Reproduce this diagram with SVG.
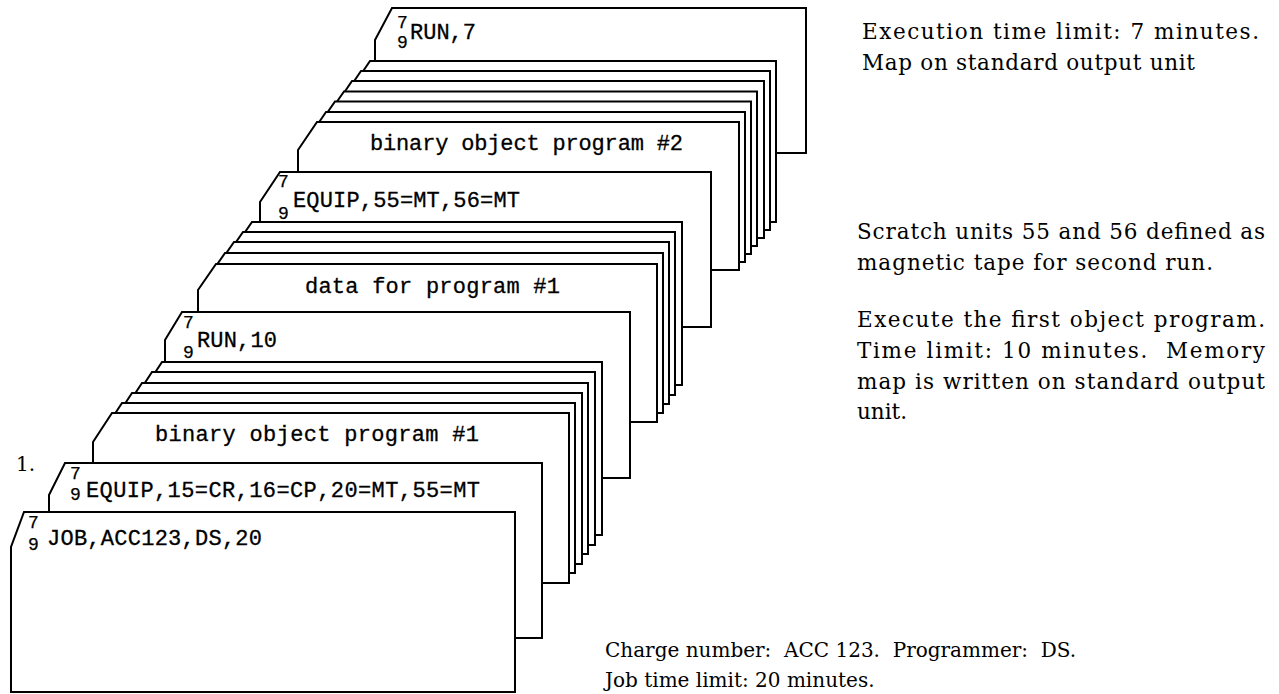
<svg xmlns="http://www.w3.org/2000/svg" width="1279" height="694" viewBox="0 0 1279 694">
<style>
.card{fill:#fff;stroke:#000;stroke-width:2;stroke-linejoin:miter}
.t{font-family:"Liberation Mono","DejaVu Sans Mono",monospace;font-size:22px;fill:#000;stroke:#000;stroke-width:0.3}
.s{font-family:"Liberation Mono","DejaVu Sans Mono",monospace;font-size:18px;fill:#000;stroke:#000;stroke-width:0.25}
.n{font-family:"DejaVu Serif","Liberation Serif",serif;font-size:21.5px;fill:#000}
.m{font-family:"DejaVu Serif","Liberation Serif",serif;font-size:20px;fill:#000}
</style>
<rect width="1279" height="694" fill="#fff"/>

<g id="card-run7">
<path class="card" d="M392,8 H806 V153 H375 V40 Z"/>
<text class="s" x="397" y="28">7</text><text class="s" x="397" y="48">9</text>
<text class="t" x="410" y="39">RUN,7</text>
</g>

<g id="deck-binary2">
<path class="card" d="M370,61 H776 V222 H351 V89 Z"/>
<path class="card" d="M361,71 H770 V230 H342 V99 Z"/>
<path class="card" d="M352,81 H764 V238 H333 V109 Z"/>
<path class="card" d="M344,91.5 H757 V246 H325 V119 Z"/>
<path class="card" d="M335,101.5 H751 V254 H316 V129 Z"/>
<path class="card" d="M326,112 H745 V262 H307 V140 Z"/>
<path class="card" d="M317,122 H739 V270 H298 V150 Z"/>
<text class="t" x="370" y="150" textLength="313" lengthAdjust="spacing">binary object program #2</text>
</g>

<g id="card-equip2">
<path class="card" d="M280,172 H711 V327 H260 V202 Z"/>
<text class="s" x="278" y="187">7</text><text class="s" x="278" y="219">9</text>
<text class="t" x="293" y="207" textLength="227" lengthAdjust="spacing">EQUIP,55=MT,56=MT</text>
</g>

<g id="deck-data1">
<path class="card" d="M252,222 H682 V385 H234 V248 Z"/>
<path class="card" d="M243,232 H675 V395 H225 V258 Z"/>
<path class="card" d="M234,242 H669 V404 H216 V268 Z"/>
<path class="card" d="M225,253 H663 V413 H207 V279 Z"/>
<path class="card" d="M216,264 H657 V422 H198 V290 Z"/>
<text class="t" x="305" y="293" textLength="255" lengthAdjust="spacing">data for program #1</text>
</g>

<g id="card-run10">
<path class="card" d="M182,312 H630 V478 H165 V340 Z"/>
<text class="s" x="183" y="328">7</text><text class="s" x="183" y="358">9</text>
<text class="t" x="197" y="347" textLength="80" lengthAdjust="spacing">RUN,10</text>
</g>

<g id="deck-binary1">
<path class="card" d="M162,362 H602 V535 H143 V391 Z"/>
<path class="card" d="M152,372 H595 V545 H133 V401 Z"/>
<path class="card" d="M142,383 H588 V554 H123 V412 Z"/>
<path class="card" d="M132,393 H582 V564 H113 V422 Z"/>
<path class="card" d="M122,403 H575 V573 H103 V432 Z"/>
<path class="card" d="M112,413 H569 V583 H93 V442 Z"/>
<text class="t" x="155" y="441" textLength="324" lengthAdjust="spacing">binary object program #1</text>
</g>

<g id="card-equip1">
<text class="m" x="16" y="471">1.</text>
<path class="card" d="M65,463 H542 V638 H49 V495 Z"/>
<text class="s" x="70" y="479">7</text><text class="s" x="70" y="500">9</text>
<text class="t" x="86" y="497" textLength="394" lengthAdjust="spacing">EQUIP,15=CR,16=CP,20=MT,55=MT</text>
</g>

<g id="card-job">
<path class="card" d="M24,512 H515 V692 H11 V547 Z"/>
<text class="s" x="28" y="528">7</text><text class="s" x="28" y="550">9</text>
<text class="t" x="47" y="545" textLength="215" lengthAdjust="spacing">JOB,ACC123,DS,20</text>
</g>

<g id="connectors"></g>

<g id="notes">
<text class="n" x="862" y="39" textLength="397" lengthAdjust="spacing">Execution time limit: 7 minutes.</text>
<text class="n" x="862" y="70" textLength="333" lengthAdjust="spacing">Map on standard output unit</text>
<text class="n" x="857" y="239" textLength="408" lengthAdjust="spacing">Scratch units 55 and 56 defined as</text>
<text class="n" x="857" y="270" textLength="356" lengthAdjust="spacing">magnetic tape for second run.</text>
<text class="n" x="857" y="327" textLength="408" lengthAdjust="spacing">Execute the first object program.</text>
<text class="n" x="857" y="358" textLength="408" lengthAdjust="spacing">Time limit: 10 minutes.&#160; Memory</text>
<text class="n" x="857" y="389" textLength="408" lengthAdjust="spacing">map is written on standard output</text>
<text class="n" x="857" y="419">unit.</text>
<text class="m" x="605" y="657">Charge number:&#160; ACC 123.&#160; Programmer:&#160; DS.</text>
<text class="m" x="605" y="687">Job time limit: 20 minutes.</text>
</g>
</svg>
